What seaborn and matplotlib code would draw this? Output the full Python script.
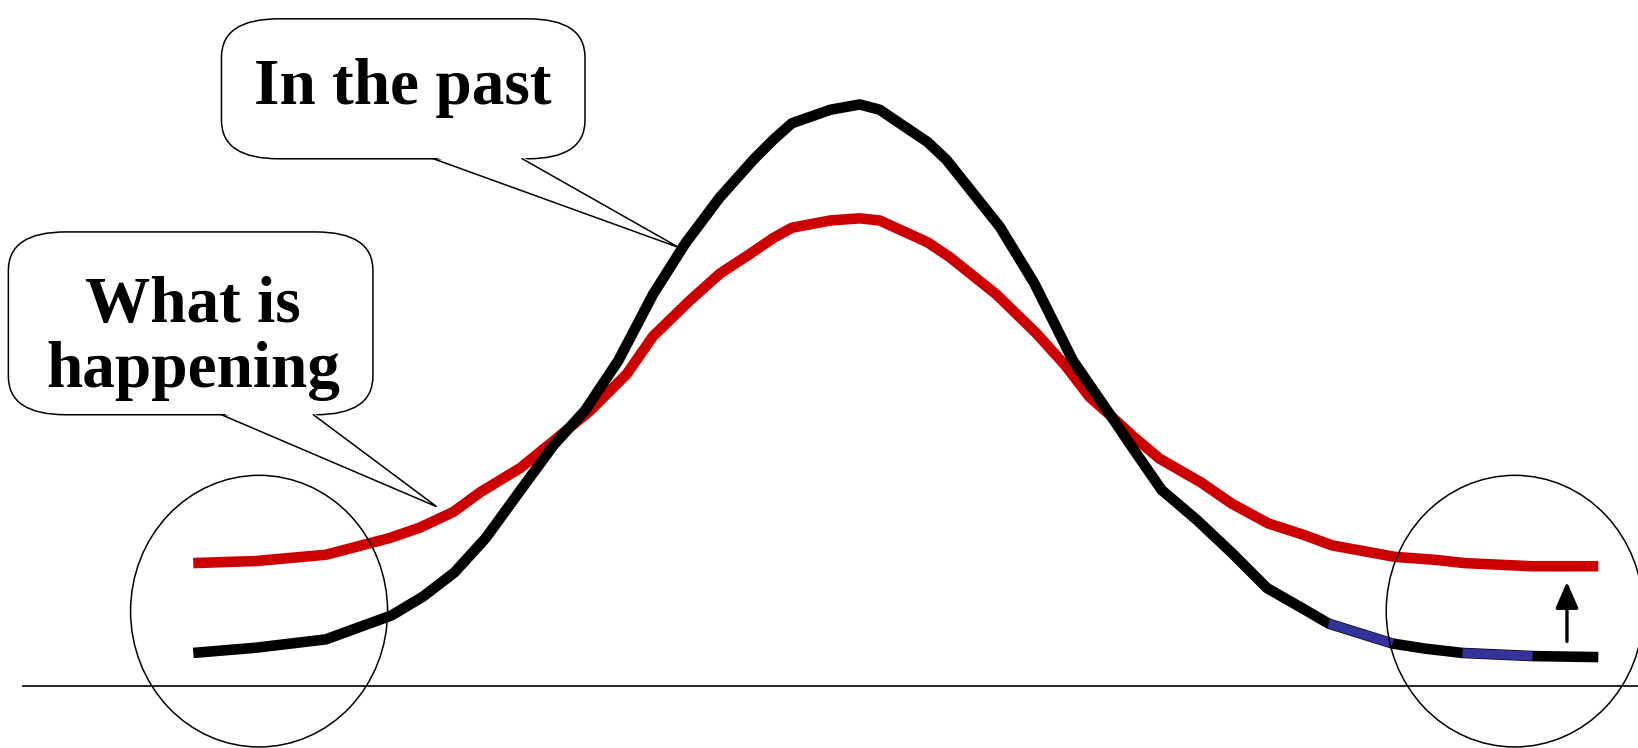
import numpy as np
import pandas as pd
import seaborn as sns
import matplotlib.pyplot as plt
from matplotlib.patches import FancyBboxPatch, Ellipse, Polygon

# curve samples: x position and height above the baseline
past_x = [185, 245, 312, 375, 405, 435, 465, 497, 530, 560, 592, 625, 656, 689, 722, 740, 758,
          795, 823, 842, 888, 906, 957, 990, 1027, 1060, 1085, 1112, 1146, 1180, 1213, 1248,
          1272, 1333, 1365, 1400, 1467, 1530]
past_y = [32, 37, 45, 68, 86, 109, 142, 186, 231, 264, 312, 375, 424, 468, 505, 523, 539,
          552, 557, 552, 521, 504, 440, 386, 312, 264, 227, 188, 159, 127, 94, 74,
          60, 41, 36, 32, 29, 28]

now_x = [185, 245, 312, 373, 402, 434, 460, 498, 530, 565, 600, 625, 660, 689, 718, 740, 758,
         795, 823, 842, 888, 909, 954, 992, 1020, 1043, 1060, 1085, 1110, 1150, 1179, 1214,
         1248, 1275, 1335, 1375, 1402, 1466, 1530]
now_y = [118, 120, 126, 142, 152, 167, 186, 209, 235, 264, 299, 335, 369, 395, 414, 429, 439,
         446, 448, 446, 425, 411, 375, 338, 307, 277, 262, 239, 218, 195, 175, 156,
         145, 135, 124, 121, 118, 115, 115]

# stretches of the old curve drawn in blue
blue_from = [1272, 1400]
blue_to = [1333, 1467]

labels = ['In the past', 'What is\nhappening']

plt.rcParams['font.family'] = ['Liberation Serif', 'DejaVu Serif']

fig = plt.figure(figsize=(16.38, 7.48), dpi=100)
ax = fig.add_axes([0, 0, 1, 1])
ax.set_xlim(0, 1568)
ax.set_ylim(-59, 657)
ax.axis('off')

past = pd.DataFrame({'x': past_x, 'y': past_y})
now = pd.DataFrame({'x': now_x, 'y': now_y})

sns.lineplot(data=now, x='x', y='y', sort=False, estimator=None, color='#CC0000',
             lw=7.6, solid_capstyle='butt', ax=ax, zorder=3)
sns.lineplot(data=past, x='x', y='y', sort=False, estimator=None, color='black',
             lw=7.6, solid_capstyle='butt', ax=ax, zorder=3)
for a, b in zip(blue_from, blue_to):
    seg = past[(past.x >= a) & (past.x <= b)]
    sns.lineplot(data=seg, x='x', y='y', sort=False, estimator=None, color='#333399',
                 lw=6.6, solid_capstyle='butt', ax=ax, zorder=4)

# baseline
ax.axhline(0, xmin=22 / 1568, xmax=1, color='black', lw=1.2, zorder=2)

# circles around both ends
for cx in [past_x[0] + 63, past_x[-1] - 80]:
    ax.add_patch(Ellipse((cx, 72), 246, 260, fill=False, ec='black', lw=1.1, zorder=5))

# arrow from old level up to new level at the right end
ax.annotate('', xy=(1500, 100), xytext=(1500, 43),
            arrowprops=dict(arrowstyle='-|>,head_length=0.8,head_width=0.35',
                            mutation_scale=20, color='black', lw=2.4, shrinkA=0, shrinkB=0),
            zorder=6)


def callout(x0, x1, y0, y1, base_a, base_b, tip, text, tx, ty):
    box = FancyBboxPatch((x0, y0), x1 - x0, y1 - y0,
                         boxstyle='round,pad=0,rounding_size=55', mutation_aspect=0.67,
                         fc='white', ec='black', lw=1.1, zorder=6)
    ax.add_patch(box)
    ax.add_patch(Polygon([(base_a, y0 + 2), tip, (base_b, y0 + 2)], closed=True,
                         fc='white', ec='none', zorder=7))
    ax.plot([base_a, tip[0], base_b], [y0, tip[1], y0], color='black', lw=1.1,
            zorder=8, solid_joinstyle='miter')
    ax.text(tx, ty, text, ha='center', va='baseline', fontsize=47, fontweight='bold',
            linespacing=1.1, zorder=9)


callout(212, 560, 505, 639, 415, 500, (650, 420), labels[0], 386, 557)
callout(8, 357, 260, 435, 212, 300, (418, 172), labels[1], 185, 287)

fig.savefig('out.png', dpi=100)
